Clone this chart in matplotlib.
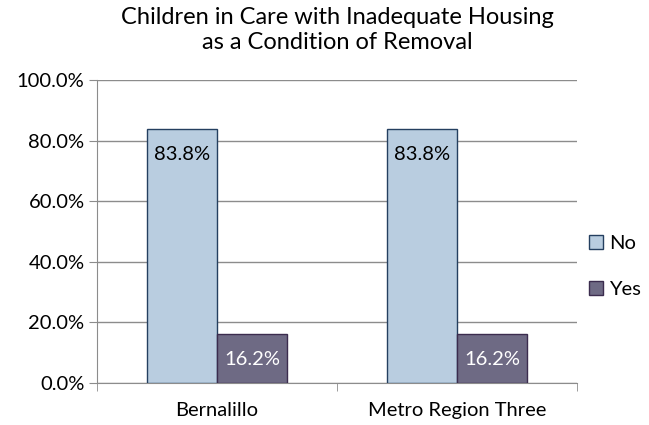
import numpy as np
import matplotlib.pyplot as plt
from matplotlib.ticker import PercentFormatter

categories = ["Bernalillo", "Metro Region Three"]
no_vals = [83.8, 83.8]
yes_vals = [16.2, 16.2]

plt.rcParams['font.family'] = ['Lato', 'DejaVu Sans']

fig = plt.figure(figsize=(6.49, 4.25), dpi=100)
ax = fig.add_axes([97/649, 42/425, 480/649, 303/425])

x = np.arange(len(categories))
w = 70/240
grid_c = '#8c8c8c'

b1 = ax.bar(x - w/2, no_vals, w, color='#b9cde0', edgecolor='#243f60', lw=1, label='No', zorder=3)
b2 = ax.bar(x + w/2, yes_vals, w, color='#6e6a84', edgecolor='#3b2c4e', lw=1, label='Yes', zorder=3)

# value labels sit a bit below the bar top
for bars, tc in ((b1, 'black'), (b2, 'white')):
    for r in bars:
        ax.annotate(f"{r.get_height():.1f}%", (r.get_x() + r.get_width()/2, r.get_height()),
                    xytext=(0, -12), textcoords='offset points', ha='center', va='top',
                    fontsize=14.5, color=tc, zorder=4)

ax.set_xlim(-0.5, len(categories) - 0.5)
ax.set_ylim(0, 100)
ax.set_yticks(np.arange(0, 101, 20))
ax.yaxis.set_major_formatter(PercentFormatter(decimals=1))
ax.set_xticks(x)
ax.set_xticklabels(categories)
ax.set_xticks([-0.5, 0.5, 1.5], minor=True)
ax.tick_params(axis='x', which='major', length=0, pad=14, labelsize=14.5)
ax.tick_params(axis='x', which='minor', length=6, color=grid_c)
ax.tick_params(axis='y', length=6, color=grid_c, labelsize=14.5, pad=3)
ax.yaxis.grid(True, color=grid_c, lw=1, zorder=0)

for s in ['top', 'right']:
    ax.spines[s].set_visible(False)
for s in ['left', 'bottom']:
    ax.spines[s].set_color(grid_c)

ax.set_title("Children in Care with Inadequate Housing\nas a Condition of Removal",
             fontsize=17, pad=22, linespacing=1.25)

ax.legend(loc='center left', bbox_to_anchor=(1.0, 0.385), frameon=False, fontsize=14.5,
          handlelength=0.7, handleheight=0.7, handletextpad=0.3, labelspacing=1.45,
          borderaxespad=0.2)

fig.savefig("out.png", dpi=100)
